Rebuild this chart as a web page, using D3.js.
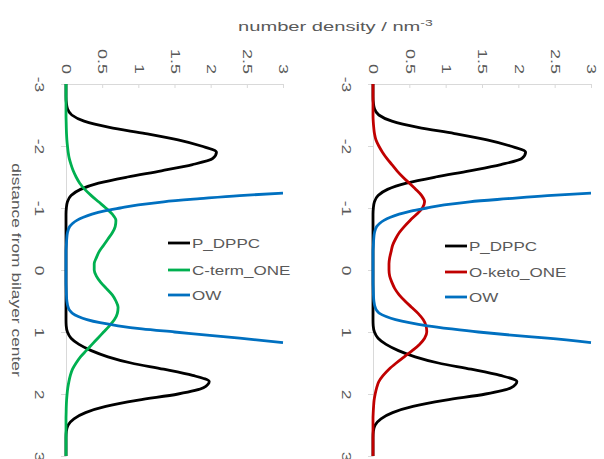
<!DOCTYPE html>
<html lang="en">
<head>
<meta charset="utf-8">
<script src="https://cdn.jsdelivr.net/npm/d3@7"></script>
<style>
  body { margin: 0; background: #fff; }
  svg text { font-family: Arial, "Liberation Sans", sans-serif; fill: #595959; }
</style>
</head>
<body>
<svg id="chart" width="604" height="459"></svg>

<script>
  // distance from bilayer center (nm), one row every 0.1 nm
  var zVals = [-3.0,-2.9,-2.8,-2.7,-2.6,-2.5,-2.4,-2.3,-2.2,-2.1,
               -2.0,-1.9,-1.8,-1.7,-1.6,-1.5,-1.4,-1.3,-1.2,-1.1,
               -1.0,-0.9,-0.8,-0.7,-0.6,-0.5,-0.4,-0.3,-0.2,-0.1,
                0.0, 0.1, 0.2, 0.3, 0.4, 0.5, 0.6, 0.7, 0.8, 0.9,
                1.0, 1.1, 1.2, 1.3, 1.4, 1.5, 1.6, 1.7, 1.8, 1.9,
                2.0, 2.1, 2.2, 2.3, 2.4, 2.5, 2.6, 2.7, 2.8, 2.9, 3.0]

  var pdppcLeft = [0,0,0,0.005,0.02,0.08,0.25,0.6,1.1,1.55,
                   1.87,2.08,2.03,1.75,1.32,0.85,0.45,0.2,0.07,0.02,
                   0.005,0,0,0,0,0,0,0,0,0,
                   0,0,0,0,0,0,0,0,0,0.003,
                   0.02,0.07,0.18,0.35,0.58,0.9,1.35,1.75,1.98,1.9,
                   1.55,1.0,0.55,0.27,0.11,0.03,0.005,0,0,0,0]

  var pdppcRight = [0,0,0,0.005,0.02,0.08,0.26,0.62,1.12,1.57,
                    1.89,2.1,2.05,1.76,1.33,0.86,0.46,0.2,0.07,0.02,
                    0.005,0,0,0,0,0,0,0,0,0,
                    0,0,0,0,0,0,0,0,0,0.003,
                    0.02,0.07,0.18,0.35,0.58,0.9,1.35,1.75,1.98,1.9,
                    1.55,1.0,0.55,0.27,0.11,0.03,0.005,0,0,0,0]

  var ctermOne = [0,0,0,0,0,0,0.002,0.004,0.007,0.012,
                  0.02,0.03,0.045,0.07,0.1,0.14,0.19,0.26,0.35,0.45,
                  0.55,0.64,0.69,0.68,0.64,0.58,0.52,0.46,0.42,0.39,
                  0.39,0.42,0.48,0.56,0.64,0.69,0.72,0.71,0.67,0.6,
                  0.52,0.44,0.36,0.28,0.2,0.14,0.09,0.06,0.04,0.025,
                  0.015,0.008,0.004,0.002,0,0,0,0,0,0,0]

  var oketoOne = [0,0,0,0,0,0,0.003,0.01,0.02,0.04,
                  0.08,0.13,0.19,0.26,0.33,0.41,0.5,0.59,0.67,0.71,
                  0.68,0.6,0.51,0.43,0.36,0.31,0.27,0.25,0.23,0.22,
                  0.22,0.23,0.26,0.3,0.36,0.44,0.53,0.62,0.69,0.73,
                  0.74,0.71,0.64,0.54,0.43,0.32,0.22,0.14,0.08,0.05,
                  0.03,0.015,0.008,0.003,0,0,0,0,0,0,0]

  // water oxygen leaves the 0-3 window past +-1.2 nm
  var owZ = [-1.24,-1.2,-1.15,-1.1,-1.05,-1.0,-0.95,-0.9,-0.85,-0.8,
             -0.75,-0.7,-0.6,-0.5,-0.4,-0.3,-0.2,-0.1,0,0.1,
             0.2,0.3,0.4,0.5,0.6,0.65,0.7,0.75,0.8,0.85,
             0.9,0.95,1.0,1.05,1.1,1.17]
  var owLeft = [3.0,2.4,1.85,1.35,1.0,0.75,0.52,0.36,0.24,0.15,
                0.09,0.05,0.02,0.01,0.005,0,0,0,0,0,
                0,0.003,0.006,0.012,0.03,0.05,0.09,0.17,0.29,0.47,
                0.72,1.05,1.5,1.95,2.4,3.0]
  var owRight = [3.0,2.4,1.85,1.33,0.98,0.74,0.52,0.36,0.24,0.15,
                 0.09,0.05,0.02,0.01,0.005,0,0,0,0,0,
                 0,0.003,0.006,0.012,0.03,0.05,0.09,0.18,0.31,0.5,
                 0.75,1.08,1.45,1.9,2.4,3.0]

  var densityTicks = [0,0.5,1,1.5,2,2.5,3]
  var densityLabels = ["0","0.5","1","1.5","2","2.5","3"]
  var zTicks = [-3,-2,-1,0,1,2,3]
  var zLabels = ["-3","-2","-1","0","1","2","3"]

  var colBlack = "#000000", colGreen = "#00b050", colRed = "#c00000", colBlue = "#0070c0"
  var axisGrey = "#d9d9d9"

  var panels = [
    {left:66, right:283, black:pdppcLeft, mid:ctermOne, midName:"C-term_ONE", midCol:colGreen,
     ow:owLeft, legX:168, legY:[243,270,295]},
    {left:373, right:591, black:pdppcRight, mid:oketoOne, midName:"O-keto_ONE", midCol:colRed,
     ow:owRight, legX:445, legY:[246,272,297]}
  ]

  var svg = d3.select("#chart")
  var y = d3.scaleLinear().domain([-3,3]).range([84,456])

  panels.forEach(function(p){
    var x = d3.scaleLinear().domain([0,3]).range([p.left,p.right])
    var g = svg.append("g")

    // density axis along the top
    var top = g.append("g").attr("transform","translate(0,"+y(-3)+")")
      .call(d3.axisTop(x).tickValues(densityTicks).tickSize(-4).tickSizeOuter(0)
        .tickFormat(function(d,i){ return densityLabels[i] }))
    top.selectAll("text")
      .attr("x",0).attr("y",0).attr("dy","0.35em")
      .attr("text-anchor","end")
      .attr("transform","translate(0,-10) rotate(90) scale(1.5,1)")

    // distance axis at density 0
    var side = g.append("g").attr("transform","translate("+x(0)+",0)")
      .call(d3.axisLeft(y).tickValues(zTicks).tickSize(5).tickSizeOuter(0)
        .tickFormat(function(d,i){ return zLabels[i] }))
    side.selectAll("text")
      .attr("x",0).attr("y",0).attr("dy",0)
      .attr("text-anchor","middle")
      .attr("transform","translate(-31,0) rotate(90) scale(1.45,1)")

    g.selectAll(".domain, .tick line").attr("stroke",axisGrey)
    g.selectAll(".tick text").attr("fill","#595959").attr("font-size",12)
      .style("font-family","Arial, 'Liberation Sans', sans-serif")

    var line = d3.line()
      .x(function(d){ return x(d[1]) })
      .y(function(d){ return y(d[0]) })
      .curve(d3.curveMonotoneY)

    var series = [
      {vals:p.black, zs:zVals, col:colBlack},
      {vals:p.mid, zs:zVals, col:p.midCol},
      {vals:p.ow, zs:owZ, col:colBlue}
    ]
    series.forEach(function(s){
      g.append("path")
        .datum(s.zs.map(function(z,i){ return [z, s.vals[i]] }))
        .attr("fill","none")
        .attr("stroke",s.col)
        .attr("stroke-width",2.8)
        .attr("stroke-linejoin","round")
        .attr("d",line)
    })

    // legend
    var names = ["P_DPPC", p.midName, "OW"]
    var cols = [colBlack, p.midCol, colBlue]
    names.forEach(function(n,i){
      g.append("line")
        .attr("x1",p.legX).attr("x2",p.legX+22)
        .attr("y1",p.legY[i]).attr("y2",p.legY[i])
        .attr("stroke",cols[i]).attr("stroke-width",2.8)
      g.append("text")
        .attr("transform","translate("+(p.legX+24)+","+(p.legY[i]+4.5)+") scale(1.42,1)")
        .attr("font-size",12)
        .text(n)
    })
  })

  // titles
  var title = svg.append("text")
    .attr("transform","translate(238,31) scale(1.55,1)")
    .attr("font-size",13)
  title.append("tspan").text("number density / nm")
  title.append("tspan").attr("dy",-5).attr("font-size",9).text("-3")

  svg.append("text")
    .attr("transform","translate(12,270) rotate(90) scale(1.45,1)")
    .attr("text-anchor","middle")
    .attr("font-size",12)
    .text("distance from bilayer center")
</script>
</body>
</html>
